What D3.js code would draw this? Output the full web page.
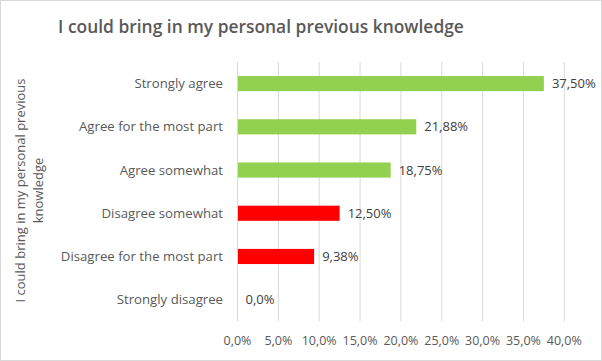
<!DOCTYPE html>
<html><head><meta charset="utf-8">
<script src="https://cdn.jsdelivr.net/npm/d3@7"></script>
<style>body{margin:0;background:#fff}svg{display:block}</style>
</head><body>
<svg id="c" width="602" height="361"></svg>
<script>
const title = "I could bring in my personal previous knowledge";
const yTitleLines = ["I could bring in my personal previous", "knowledge"];
const categories = ["Strongly agree","Agree for the most part","Agree somewhat","Disagree somewhat","Disagree for the most part","Strongly disagree"];
const values = [37.50, 21.88, 18.75, 12.50, 9.38, 0.0];
const valueLabels = ["37,50%","21,88%","18,75%","12,50%","9,38%","0,0%"];
const barColors = ["#92d050","#92d050","#92d050","#ff0000","#ff0000","#ff0000"];
const xTicks = [0,5,10,15,20,25,30,35,40];
const xTickLabels = ["0,0%","5,0%","10,0%","15,0%","20,0%","25,0%","30,0%","35,0%","40,0%"];

const font = "'Open Sans', sans-serif";
const svg = d3.select("#c");
svg.append("rect").attr("x",0.5).attr("y",0.5).attr("width",601).attr("height",360)
  .attr("fill","#fff").attr("stroke","#d9d9d9");

const x = d3.scaleLinear().domain([0,40]).range([237.5,564.3]);
const y = d3.scaleBand().domain(categories).range([62,321.3]).paddingInner(0.65).paddingOuter(0.325);

// gridlines
svg.append("g").selectAll("line").data(xTicks.slice(1)).join("line")
  .attr("x1",d=>x(d)).attr("x2",d=>x(d)).attr("y1",62).attr("y2",321.3)
  .attr("stroke","#d9d9d9").attr("stroke-width",1);

// bars
svg.append("g").selectAll("rect").data(values).join("rect")
  .attr("x",x(0)).attr("y",(d,i)=>y(categories[i]))
  .attr("width",d=>x(d)-x(0)).attr("height",y.bandwidth())
  .attr("fill",(d,i)=>barColors[i]);

// left axis line
svg.append("line").attr("x1",x(0)).attr("x2",x(0)).attr("y1",62).attr("y2",321.3)
  .attr("stroke","#d9d9d9").attr("stroke-width",1);

// category labels
svg.append("g").selectAll("text").data(categories).join("text")
  .attr("x",223).attr("y",d=>y(d)+y.bandwidth()/2).attr("dy","0.35em")
  .attr("text-anchor","end").attr("font-family",font).attr("font-size",13.2)
  .attr("fill","#595959").text(d=>d);

// value labels
svg.append("g").selectAll("text").data(values).join("text")
  .attr("x",d=>x(d)+8).attr("y",(d,i)=>y(categories[i])+y.bandwidth()/2).attr("dy","0.35em")
  .attr("font-family",font).attr("font-size",13).attr("fill","#404040")
  .text((d,i)=>valueLabels[i]);

// x tick labels
svg.append("g").selectAll("text").data(xTicks).join("text")
  .attr("x",d=>x(d)).attr("y",341).attr("dy","0.35em").attr("text-anchor","middle")
  .attr("font-family",font).attr("font-size",12.5).attr("fill","#595959")
  .text((d,i)=>xTickLabels[i]);

// y axis title
const yt = svg.append("text").attr("transform","translate(0,190.5) rotate(-90)")
  .attr("text-anchor","middle").attr("font-family",font).attr("font-size",13).attr("fill","#595959");
yTitleLines.forEach((t,i)=>yt.append("tspan").attr("x",0).attr("y",25+i*18).text(t));

// title
svg.append("text").attr("x",261).attr("y",33).attr("text-anchor","middle")
  .attr("font-family",font).attr("font-size",17.4).attr("font-weight",600)
  .attr("fill","#595959").text(title);
</script>
</body></html>
